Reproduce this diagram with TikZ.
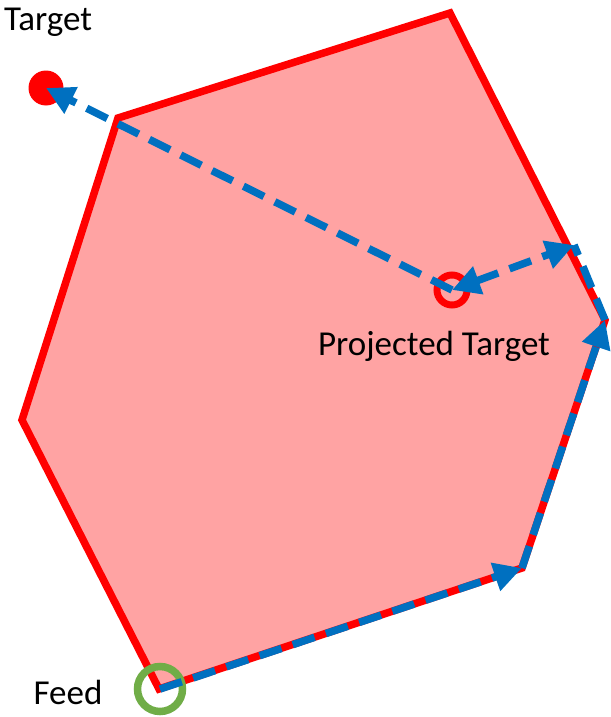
\documentclass[tikz,border=0pt]{standalone}
\usepackage{fontspec}
\setmainfont{Carlito}
\usetikzlibrary{arrows.meta}
\definecolor{polyred}{RGB}{255,0,0}
\definecolor{polyfill}{RGB}{255,163,163}
\definecolor{arrblue}{RGB}{0,112,192}
\definecolor{feedgreen}{RGB}{112,173,71}
\tikzset{
  poly/.style={draw=polyred, fill=polyfill, line width=7.5pt, line join=miter},
  movearrow/.style={draw=arrblue, line width=7.5pt, dash pattern=on 23pt off 12pt,
    -{Triangle[length=28pt,width=28pt]}},
  lbl/.style={font=\fontsize{35}{40}\selectfont, text=black, inner sep=0pt}
}
\begin{document}
\begin{tikzpicture}[x=1pt,y=-1pt]
\useasboundingbox (0,0) rectangle (610,717);
% polygon vertices
\coordinate (v1) at (118,118);
\coordinate (v2) at (450,13);
\coordinate (v3) at (605,320);
\coordinate (v4) at (522,568);
\coordinate (v5) at (159,689);
\coordinate (v6) at (22,420);
\coordinate (edge) at (574,245);
\path[poly] (v1) -- (v2) -- (v3) -- (v4) -- (v5) -- (v6) -- cycle;
% markers
\node[circle, fill=polyred, minimum size=35pt, inner sep=0pt] (target) at (46,88) {};
\node[circle, draw=polyred, line width=7pt, minimum size=30pt, inner sep=0pt] (proj) at (452,290) {};
\node[circle, draw=feedgreen, line width=7.5pt, minimum size=45pt, inner sep=0pt] (feed) at (160,689) {};
% labels
\node[lbl] (tlabel) at (48,22) {Target};
\node[lbl] (plabel) at (434,346) {Projected Target};
\node[lbl] (flabel) at (68,692) {Feed};
% arrows
\draw[movearrow] (proj.center) -- (target.center);
\draw[movearrow, {Triangle[length=28pt,width=28pt]}-{Triangle[length=28pt,width=28pt]}] (proj.center) -- (edge);
\draw[movearrow] (feed.center) -- (v4);
\draw[movearrow] (v4) -- (v3);
\draw[movearrow, -] (v3) -- (edge);
\end{tikzpicture}
\end{document}
